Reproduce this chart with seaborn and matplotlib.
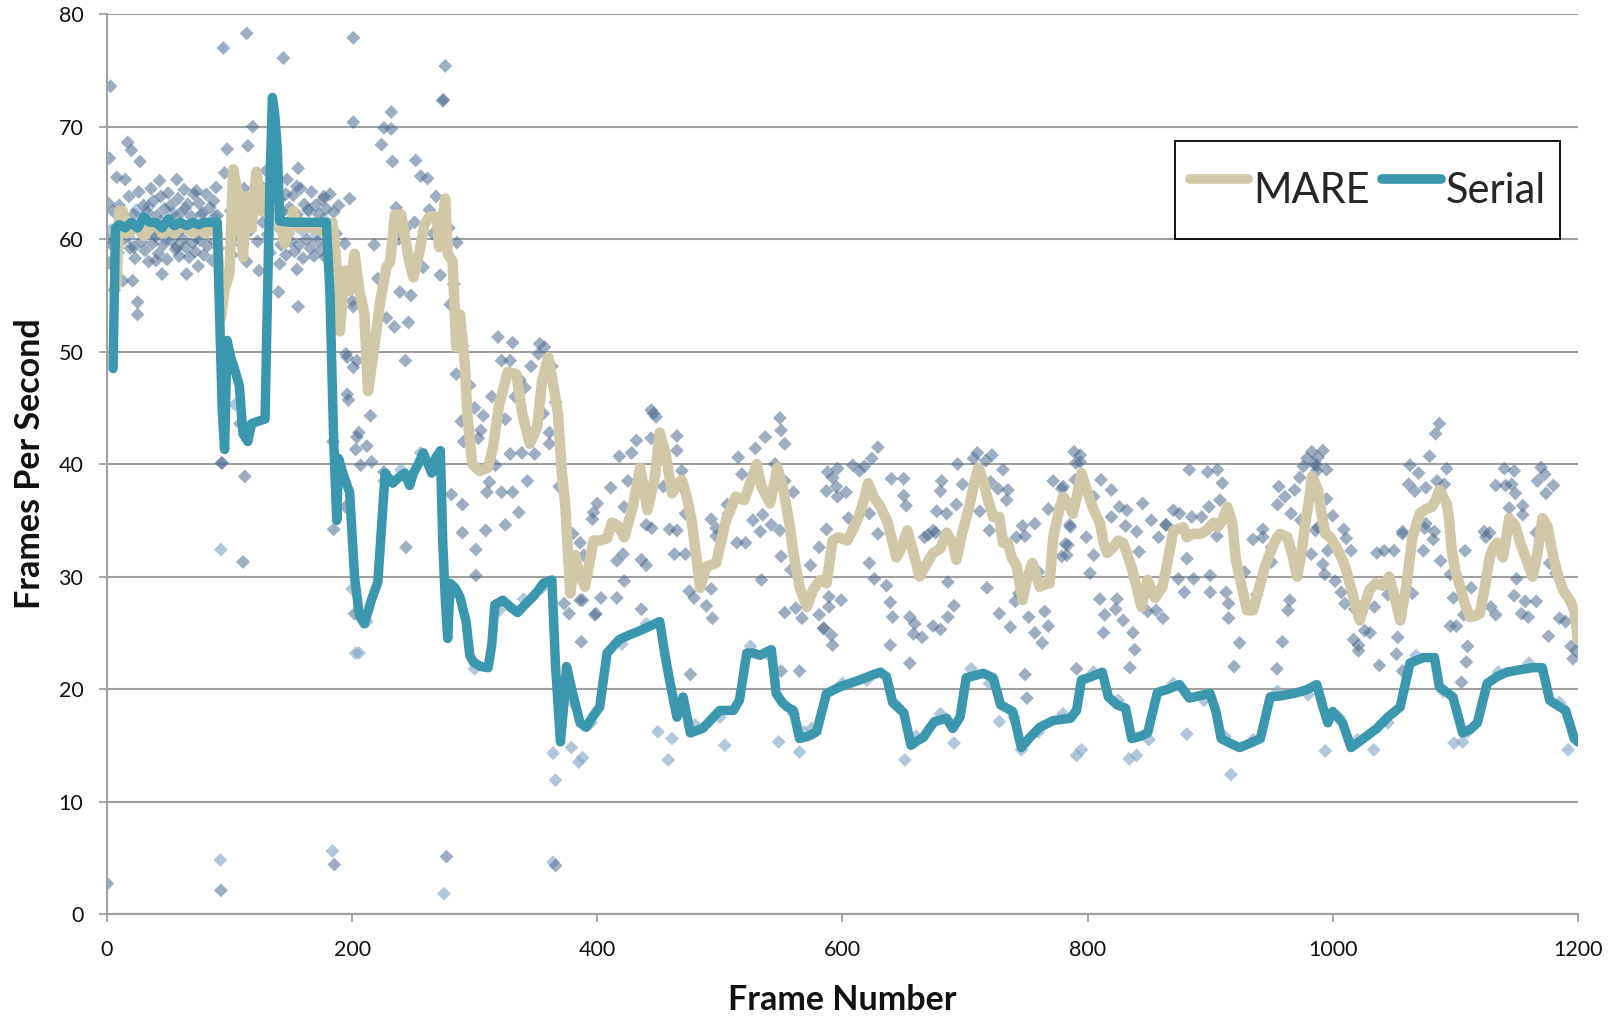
import matplotlib
matplotlib.use("Agg")
import matplotlib.pyplot as plt
import seaborn as sns
import pandas as pd

# ---------------- data ----------------
mare_frame = [8,10,13,16,20,25,30,35,40,45,50,55,60,65,70,75,80,85,90,93,96,100,103,106,108,111,114,118,122,126,130,134,140,143,145,150,152,156,160,165,170,175,180,184,187,190,194,198,202,206,210,213,217,223,228,231,235,240,246,250,255,259,263,269,271,276,278,282,285,288,292,294,298,304,311,315,320,327,334,339,345,351,355,360,364,368,371,374,378,382,386,390,397,402,408,412,417,422,429,435,441,447,451,456,461,466,469,473,477,480,484,489,497,505,513,520,530,534,541,547,552,557,560,565,571,576,582,587,592,597,604,610,614,618,621,626,631,637,641,644,648,653,657,663,668,674,680,685,690,693,698,703,708,711,715,718,723,728,731,735,738,742,747,751,755,761,765,769,772,777,780,784,788,791,795,800,805,810,813,816,820,825,829,836,844,849,855,861,864,870,878,881,886,892,897,903,906,910,914,918,921,926,930,935,941,945,949,953,957,963,967,971,975,978,981,983,988,991,994,998,1003,1008,1011,1016,1022,1026,1030,1035,1041,1046,1051,1055,1060,1065,1071,1076,1081,1084,1087,1093,1095,1097,1100,1104,1108,1112,1116,1120,1124,1128,1131,1134,1139,1144,1149,1153,1158,1163,1167,1171,1175,1180,1184,1188,1194,1197,1200]
mare_fps = [56,62.5,62.5,60.5,60.8,61,60.3,61,61.5,60.5,61,60.5,61.2,61,60.5,61,60.5,60.8,60.8,53,55.5,57,66.2,64.5,64,58.4,63.8,61,66,62.5,64.5,62,61,60.7,59.6,61.5,62.5,61,61.5,61,61,60.7,60.7,61.5,58,51.8,57.2,55.4,58.7,55.4,53.4,46.5,49.5,54.5,57.5,58,62.2,62.2,58.4,56.6,58.9,61.3,62,62,59.3,63.6,58.7,58,50.4,53.3,48.9,44.4,40,39.4,39.7,41.5,45.3,48.2,48,44.4,41.8,43.3,47.4,49.5,47.1,44.4,39.4,36.2,28.5,31.9,30,29.1,33.2,33.2,33.4,34.8,34.5,33.5,36.2,39.7,35.9,38.9,42.8,40.8,37.4,38.3,38.6,37.1,35,32.4,29,30.9,31.2,35,37.1,36.8,40,38,36.5,39.7,37.7,34.5,32.1,29.1,27.3,28.8,29.7,29.4,33.2,33.5,33.2,34.5,35.5,37,38.3,37,36.2,34.8,33,31.7,32.5,34.1,32.5,30,31,32.1,32.5,33.9,33,31.5,34,36,38.5,39.7,38.5,37.1,35.3,35.3,33,33,31.7,31,27.9,30,31.2,29.1,29.3,29.4,33.5,36,37.1,36.5,35.6,37,39.2,37.5,35.9,34.8,33,32.1,32.5,33.2,33,30.8,27.3,29.7,28.1,29.1,30.6,34.1,34.4,33.5,33.8,33.8,34.1,34.8,34.4,35,36.2,34.8,31.5,29,27,27,29.4,31,32.1,33.2,33.8,33.5,32,30,32.5,35,37,38.9,37.7,35.5,33.8,33.5,32.6,31.5,30.6,28.5,26.1,27.5,28.8,29.4,29.2,30,28,26.1,29.1,33.5,35.6,36,36.2,36.8,37.7,36.5,35,32.4,30.5,29.1,27.5,26.4,26.5,26.7,29,31.7,32.6,33,31.7,35.2,34.5,33,31.5,30,32,35.2,34.5,31.7,30,28.8,27.8,27,24.4]

serial_frame = [5,7,10,15,20,25,30,35,40,45,50,55,60,65,70,75,80,85,90,92,94,96,98,101,104,108,111,115,118,123,129,131,133,135,137,139,141,150,160,170,179,182,185,187.5,189,193,198,202,206,210,216,221,225,227,233,238,243,247,250,254,258,262,265,268,272,274,276,278,280,284,288,293,296,299,305,311,314,316.5,323,329,335,341,347.5,352,356,363,366,370,373,375,380,386,391,396,402,408,418,426,435,443,451,455,459,465,470,476,486,493,500,511,516,522,527,533,538,542,546,551,555,560,565,572,579,587,598,606,614,623,631,636,641,650,656,661,666,671,675,685,690,696,701,708,715,723,729,734,739,746,753,761,772,786,791,795,803,812,817,824,831,836,843,849,857,866,875,883,891,900,905,909,916,924,933,941,949,958,968,978,987,992,996,1000,1008,1015,1025,1036,1045,1055,1063,1074,1083,1087,1098,1106,1112,1118,1126,1134,1142,1152,1163,1171,1177,1184,1190,1197,1200]
serial_fps = [48.5,61,61.3,61,61.5,61,62,61.5,61.5,61,61.8,61.2,61.5,61.2,61.5,61.3,61.5,61.5,61.5,53,45,41.3,51,49.5,48.5,47,42.7,42,43.6,43.8,44,55,65,72.6,71,68,61.6,61.5,61.5,61.5,61.5,55,42,35,40.5,39,37.5,30,26.5,25.8,28,29.5,36,39.2,38.3,38.8,39.2,38.1,39.2,40,41,40,39.2,40.5,41.2,33,28,24.5,29.4,29,28.2,26,23,22.4,22,21.9,24,27.5,27.9,27.3,26.8,27.5,28.2,28.8,29.4,29.7,22,15.3,19,22,19.6,17,16.6,17.5,18.4,23.2,24.4,24.8,25.2,25.6,26,23.2,20.8,17.5,19.3,16.1,16.5,17.3,18.1,18.1,19,23.2,23.2,23,23.3,23.5,19.6,18.8,18.4,18.1,15.6,15.8,16.2,19.6,20.2,20.5,20.8,21.2,21.5,21.1,18.8,17.9,15,15.4,15.7,16.5,17.1,17.4,16.5,17.5,21,21.2,21.4,21,18.6,18.3,18,14.8,15.7,16.6,17.2,17.4,18.1,20.8,21.1,21.5,19.3,18.6,18.3,15.6,15.8,16.1,19.7,20,20.4,19.2,19.4,19.6,17.9,15.6,15.2,14.8,15.2,15.6,19.3,19.4,19.6,19.9,20.4,18.4,17,18,17,14.8,15.6,16.5,17.5,18.4,22.3,22.8,22.8,20.2,19.3,16.1,16.4,17,20.5,21.1,21.5,21.7,21.9,21.9,19,18.5,18.1,15.6,15.3]

# raw per-frame samples (dark = MARE, light = Serial)
mare_raw_frame = [3,114,95,144,201,201,119,115,98,17,20,2,27,8,15,43,57,156,130,96,155,147,89,73,198,189,177,
    5,10,12,18,22,26,30,33,36,38,41,44,47,50,52,55,58,61,63,66,69,71,75,78,81,84,87,90,
    4,9,14,19,23,28,31,34,37,40,42,46,49,53,56,59,62,64,67,70,72,76,79,82,86,88,91,
    22,40,57,65,74.5,45,13,25,25,21,2,1,0,6,
    141,143,146,149,152,155,158,161,164,167,170,173,176,179,182,185,142,146,150,153,157,160,163,166,169,172,175,178,181,184,187,114,124,141,155,156,140,194,201,196,201,197,204,184.5,94,108.5,
    101,104,107,110,113,117,120,123,127,131,134,102,112,125,133,
    93.5,112.5,111,185,194.5,202,185.5,93,0.3,
    276,274,274.5,232,226,232,224,233,252,256,261.5,268.5,236,263,251,218,285.5,239,246,234.5,228,243.5,280,285,200,196,204,195,215,212,205.5,203,319,331,322,329,353,357,352,346,363,341,333,314,307,289,303,338.5,329,349,361,361,291,
    221,238,244,248,258,266,272,279,283,290,296,300,305,310,325,337,343,356,366,369,
    277,366,244,301,301,309,281,290,290,336,325,322,331,317,312,207,216,226,387,373,377,386,398,397,380,389,
    446,448,444,432,428,444,418,425,411,400,396,422,454,465,465,469,472,444.5,465,493,497,515,518,529,537,549,550,553,545,553,560,542,535,549,595,596,603,521,507,506,
    386,388,399,403,416,416,422,436,440,421,440,459,463,472,475,479,489,494,493,497,514,527,533,534,550,558,553,562,567,574,581,585,591,581,589,587,436,476,565,550,
    629,624,618,608.5,614,588,592,587,596,640,650,650,652,622,629,605,680,681,677,685,693,694,698,707,710,717,722,721,727,731,735,734,712,720,747,757,768,772,779,782,789,790.5,742,667,674,
    589,592,584.5,599,622,626,636,639,641,639,655,655,659,665,658,674,680,686,691,686,676,670,718,728,737,741,744,752,757,763,765,768,760,749,779,782,749,750.5,
    794,794,780,790,811,819.5,805,826,832,819.5,831,785.5,799,870,875,883,898,906,910,908,899,893,885,864,956,969,961,955,966,974,985,988,992,995,983.5,943,950,
    786,784,783,802,805,810,814,824,823,813,829,837,834.5,838.5,849,856,861.5,842,864,874,879,881,886.5,900,900,905.5,913,915,915,924,919.5,928,938,935,943,950,959,954.5,963.5,965,982.5,791,845,852,858,840,
    979,983,976,987,987,973,995,1000,1009,1011,986,1063,1070,1062,1067,1076,1079,1087,1084,1093,1085,1091,1075,1082,1083,1057,1140,1148,1133,1141,1146,1149,1144,1155,1155,1128,1125,1166,1170,1173,1167,1180,1174,
    988,996,992,993.5,1002,1007,1010,1015,1018,1017,1021,1021,1026,1030.5,1034,1036,1042,1045,1050,1053,1052,1057,1038,1065,1057,1074,1076,1088,1096,1098.5,1096,1101,1107,1108,1110,1109,1105,1113,1123.5,1129,1133,1148,1157,1159.5,1154,1166,1162,1150,1177,1182,1185,1190,1176,1194.5,1198.5,1196]
mare_raw_fps = [73.6,78.3,77.0,76.1,77.9,70.4,70.0,68.3,68.0,68.6,67.9,67.2,66.9,65.5,65.3,65.2,65.3,66.3,66.1,65.9,64.7,65.3,64.6,64.3,63.6,63.0,63.8,
    62.5,63,61.5,63.8,62.2,64.2,63,62.4,64.5,63.4,62.1,63.8,62.7,64.1,63,61.9,63.6,62.4,64.4,63.1,62,64,63.2,62.3,64,62.8,63.4,62.1,
    59.5,58.8,60,59.2,58.3,59.8,59,58,59.6,60.2,58.7,59.5,58.2,59.9,59.1,58.5,60,59.3,58.4,59.7,58.9,59.9,58.6,59.4,58.1,59.8,59.2,
    59.3,58.1,59.3,56.9,57.6,56.9,56.3,54.4,53.3,56.3,57.9,63.2,60,55.5,
    63.5,62.4,64,62.8,63.9,62.2,64.5,63.1,62.6,64.2,63,62.2,63.5,62.7,64,62.4,59.5,58.6,59.8,58.9,59.5,58.3,60,59.2,58.5,59.8,59,58.4,59.6,58.8,60.5,58,57.2,57.8,57.3,54,55.3,59.6,54.0,49.5,48.6,45.7,42.4,42.0,40.1,43.6,
    62.5,60.2,62,59.5,61.8,60.8,62.8,59.8,61.5,60.4,62.5,58.6,64.5,64.8,58.8,
    40.1,38.9,31.3,34.2,36.2,26.7,4.4,2.1,2.7,
    75.4,72.3,72.4,71.3,69.9,69.8,68.4,66.9,67.0,65.6,65.4,63.8,62.8,62.6,61.5,59.5,59.7,55.3,52.6,52.2,53.0,49.2,54.2,48.0,54.5,46.2,49.2,49.8,44.3,41.6,42.8,41.3,51.3,50.8,49.2,49.2,50.7,50.4,49.8,48.7,48.7,46.8,46.0,46.0,44.3,43.8,42.3,41.0,40.9,40.9,41.8,42.8,42.0,
    56.5,60,61,55,57.5,60.5,56.8,61,56,50.5,47,45,43,37.5,44,47.5,38.5,44.5,45.5,38,
    5.1,4.3,32.6,32.4,30.1,34.1,37.3,36.4,33.9,35.7,34.6,37.5,37.5,39.9,38.4,39.9,40.2,39.3,24.2,27.6,26.7,27.9,26.6,35.7,33.8,31.9,
    44.5,44.2,44.8,42.1,41,42.3,40.7,38.5,37.9,36.5,35.1,36.2,38,42.5,41.2,39.4,35.6,34.3,34.1,35.1,34.3,40.6,39.1,41.4,42.4,44.1,43,41.8,40,38.5,37.5,34.6,35.5,34.1,38,39.6,37.5,33.0,35.6,36.4,
    33.0,27.9,26.7,28.1,28.1,31.4,29.6,27.1,31.0,32,34.6,34.2,32,32,28.7,28.1,27.4,26.3,28.9,33.6,33.0,35,34,29.7,31.8,30.6,26.8,27.2,26.3,31,32.6,25.4,24.8,26.6,28.2,34.2,31.5,21.3,21.6,21.6,
    41.5,40.5,39.8,39.9,39.4,39.3,38.8,37.6,37.1,38.7,38.7,37.2,36.3,35.6,33.8,35.2,37.6,38.5,35.8,35.6,36.4,40,38.2,40.5,41,40.3,40.8,38.4,37.8,39.5,37.7,36.8,35.8,34.1,34.5,34.7,36,38.5,37.8,36.5,41.1,40.1,33.5,33.5,34.1,
    27.3,23.9,25.4,27.9,31.2,29.8,29.2,27.7,26.4,23.9,22.3,26.4,25.8,24.6,24.9,25.6,25.3,26.4,27.4,29.5,33.9,33.7,29,26.7,25.5,27.8,28.5,26.4,25,24.1,26.9,25.6,30.4,33.6,31.8,32.9,21.3,19.2,
    40.8,40.2,38,38.6,38.6,37.7,37.1,36.2,35.9,35.3,34.5,34.6,33.5,35.9,35.6,39.5,39.3,39.5,38.3,36.8,36.2,35.3,35.3,34.6,38,37.7,37.1,36.4,35.6,35,40,40.6,41.2,39.5,38.6,33.5,32.6,
    34.4,32.8,31.9,30.3,31.9,28,26.6,28,27.1,25,26.1,25,21.9,23.5,26.9,27,26.3,32.2,34.6,29.8,28.6,31.6,29.8,30.1,28.6,33.6,28.6,27.6,26.3,24.1,22,30.4,28.4,33.3,34.2,31.3,24.2,21.8,27,27.9,32,21.8,36.5,35,33.5,34,
    40.5,41.1,39.8,39.9,39.4,38.8,36.9,35.4,34.2,33.4,34.1,39.9,39.2,38.2,37.6,37.9,40.7,43.6,42.7,39.6,38.5,38.2,34.3,33.3,34.0,33.8,39.6,39.4,38.1,38.1,38.2,37.4,36.1,36.3,35.5,33.9,33.5,33.9,39.7,39.1,38.5,38.1,37.4,
    34.4,32.3,31.1,30.2,29.6,28.6,27.6,32.3,27.1,24.4,23.9,23.4,25.2,25,27.3,32.1,32.3,28.4,32.3,24.6,23.1,21.6,22.1,28.5,34,32.3,34.7,31.4,30.2,28.1,25.6,25.6,26.6,32.3,23.8,22.4,20.6,29.0,34,27.3,26.6,28.3,27.8,26.4,26.7,27.8,31.2,29.8,31.2,30.3,26.3,26,24.7,23.8,23.4,22.7]

serial_raw_frame = [93,200,203,92.5,184,205.6,275,364,366,364,385,379,104.5,504,458,449.5,461,548,565,568.5,388,728,691,651,746,795,791,834,840,881,917,994,1033.5,1099,1106,1192,
    3,12,18,24,29,34,39,44,48,54,59,64,68,73,77,83,88,142,148,154,159,165,171,177,183,
    212,226,240,256,268,282,300,320,340,355,380,395,420,440,470,480,500,525,540,560,575,600,620,645,660,680,705,720,740,760,780,805,825,850,870,895,912,935,955,980,1005,1020,1045,1068,1090,1110,1135,1160,1185]
serial_raw_fps = [32.4,28.9,23.2,4.8,5.6,23.2,1.8,4.6,11.9,14.3,13.5,14.8,45.3,15.0,13.7,16.2,15.6,15.3,14.4,16.2,13.9,17.1,15.2,13.7,14.6,14.6,14.1,13.8,14.1,16.0,12.4,14.5,14.6,15.2,15.3,14.6,
    60.8,61.8,60.2,62.6,61,62.9,60.4,61.6,60,62.3,60.7,62.7,61.2,60.1,62.2,60.7,62,62.3,60.5,62,60.8,62.5,60.4,61.8,60.9,
    26,38.5,39.5,41,40,28.5,21.8,27,28,29,18.8,17,24,25.8,18.5,16.8,17.5,23.8,23,17.8,16.5,20.5,20.8,18.5,15.8,17.8,21.8,20.5,17.5,16.2,17.8,21.5,19,15.5,20.5,19,15.8,15.5,19.8,19.5,17.5,15.5,17,23,19.8,16.2,21.5,22.3,18.8]

y_ticks = [0, 10, 20, 30, 40, 50, 60, 70, 80]
x_ticks = [0, 200, 400, 600, 800, 1000, 1200]

# ---------------- styling ----------------
sns.set_theme(style="white")
plt.rcParams['font.family'] = ['Lato', 'DejaVu Sans']

mare_color = "#D0C8A6"
serial_color = "#3B97AE"
grid_color = "#A0A0A0"

fig = plt.figure(figsize=(16.2, 10.16), dpi=100)
ax = fig.add_axes([0.066, 0.1004, 0.908, 0.8856])

df_mr = pd.DataFrame({"frame": mare_raw_frame, "fps": mare_raw_fps})
df_sr = pd.DataFrame({"frame": serial_raw_frame, "fps": serial_raw_fps})
df_m = pd.DataFrame({"frame": mare_frame, "fps": mare_fps})
df_s = pd.DataFrame({"frame": serial_frame, "fps": serial_fps})

sns.scatterplot(data=df_sr, x="frame", y="fps", marker="D", s=50, color="#86A9CB",
                alpha=0.65, edgecolor="none", linewidth=0, ax=ax, zorder=2, legend=False)
sns.scatterplot(data=df_mr, x="frame", y="fps", marker="D", s=50, color="#4D6C90",
                alpha=0.55, edgecolor="none", linewidth=0, ax=ax, zorder=2, legend=False)
sns.lineplot(data=df_m, x="frame", y="fps", color=mare_color, linewidth=7.6,
             ax=ax, zorder=3, label="MARE", sort=False, estimator=None)
sns.lineplot(data=df_s, x="frame", y="fps", color=serial_color, linewidth=6.8,
             ax=ax, zorder=4, label="Serial", sort=False, estimator=None)

ax.set_xlim(0, 1200)
ax.set_ylim(0, 80)
ax.set_yticks(y_ticks)
ax.set_xticks(x_ticks)
ax.set_yticklabels([str(v) for v in y_ticks])
ax.set_xticklabels([str(v) for v in x_ticks])

ax.yaxis.grid(True, color=grid_color, linewidth=1.5)
ax.xaxis.grid(False)
ax.set_axisbelow(True)
for side in ["top", "right"]:
    ax.spines[side].set_visible(False)
for side in ["left", "bottom"]:
    ax.spines[side].set_color(grid_color)
    ax.spines[side].set_linewidth(1.5)

ax.tick_params(axis="both", which="major", direction="out", length=6, width=1.3,
               color=grid_color, labelsize=15.5, labelcolor="#111111",
               left=True, bottom=True)
ax.tick_params(axis="x", pad=13)
ax.tick_params(axis="y", pad=11)

ax.set_xlabel("Frame Number", fontsize=24.5, fontweight="bold", labelpad=17, color="#111111")
ax.set_ylabel("Frames Per Second", fontsize=24.5, fontweight="bold", labelpad=9, color="#111111")

leg = ax.legend(loc="upper right", bbox_to_anchor=(0.988, 0.859), ncol=2,
                fontsize=30, frameon=True, fancybox=False, framealpha=1,
                edgecolor="black", handlelength=1.4, handleheight=2.15,
                handletextpad=0.12, columnspacing=0.3, borderpad=0.35, borderaxespad=0)
leg.get_frame().set_linewidth(1.3)
for line in leg.get_lines():
    line.set_linewidth(7)

fig.savefig("out.png", dpi=100, facecolor="white")
